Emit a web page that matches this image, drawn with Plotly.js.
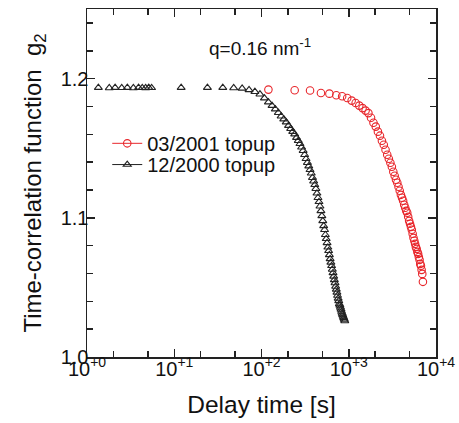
<!DOCTYPE html>
<html>
<head>
<meta charset="utf-8">
<script src="https://cdn.plot.ly/plotly-3.0.1.min.js"></script>
<style>html,body{margin:0;padding:0;background:#fff;}#chart{width:459px;height:423px;}</style>
</head>
<body>
<div id="chart"></div>
<script>
// 12/2000 topup (triangles): delay time [s] and g2
var timeDec2000 = [1.35, 1.8, 2.1, 2.5, 2.9, 3.4, 3.9, 4.3, 4.7, 5.1, 5.5,
  12, 24, 36, 48, 60, 72, 84, 96, 108, 120, 132, 144, 156, 168, 180, 192, 204, 216, 228, 240,
  252, 264, 276, 288, 300, 312, 324, 336, 348, 360, 372, 384, 396, 408, 420, 432, 444, 456, 468, 480,
  492, 504, 516, 528, 540, 552, 564, 576, 588, 600, 612, 624, 636, 648, 660, 672, 684, 696, 708, 720,
  732, 744, 756, 768, 780, 792, 804, 816, 828, 840, 852, 864, 876, 888, 900];
var g2Dec2000 = [1.1935, 1.1933, 1.1935, 1.1934, 1.1935, 1.1933, 1.1935, 1.1934, 1.1933, 1.1935, 1.1934,
  1.1935, 1.1935, 1.1935, 1.1933, 1.1930, 1.1919, 1.1906, 1.1888, 1.1860, 1.1831, 1.1806, 1.1781, 1.1755, 1.1730, 1.1709, 1.1687, 1.1662, 1.1640, 1.1619, 1.1601,
  1.1576, 1.1554, 1.1532, 1.1507, 1.1482, 1.1453, 1.1424, 1.1396, 1.1371, 1.1345, 1.1320, 1.1288, 1.1263, 1.1237, 1.1209, 1.1176, 1.1144, 1.1115, 1.1083, 1.1050,
  1.1014, 1.0978, 1.0942, 1.0914, 1.0878, 1.0849, 1.0820, 1.0788, 1.0763, 1.0734, 1.0705, 1.0680, 1.0655, 1.0629, 1.0604, 1.0579, 1.0554, 1.0532, 1.0507, 1.0486,
  1.0464, 1.0442, 1.0421, 1.0403, 1.0381, 1.0371, 1.0356, 1.0342, 1.0327, 1.0313, 1.0302, 1.0291, 1.0281, 1.0270, 1.0259];

// 03/2001 topup (circles)
var timeMar2001 = [120, 240, 360, 480, 600, 720, 840, 960, 1080, 1200,
  1320, 1440, 1560, 1680, 1800, 1920, 2040, 2160, 2280, 2400,
  2520, 2640, 2760, 2880, 3000, 3120, 3240, 3360, 3480, 3600,
  3720, 3840, 3960, 4080, 4200, 4320, 4440, 4560, 4680, 4800,
  4920, 5040, 5160, 5280, 5400, 5520, 5640, 5760, 5880, 6000,
  6120, 6240, 6360, 6480, 6600, 6720, 6840, 6960, 7080];
var g2Mar2001 = [1.1921, 1.1916, 1.1915, 1.1897, 1.1892, 1.1880, 1.1873, 1.1861, 1.1842, 1.1825,
  1.1806, 1.1788, 1.1770, 1.1752, 1.1719, 1.1683, 1.1655, 1.1619, 1.1590, 1.1554,
  1.1525, 1.1489, 1.1453, 1.1424, 1.1396, 1.1367, 1.1331, 1.1302, 1.1273, 1.1252,
  1.1223, 1.1194, 1.1165, 1.1144, 1.1122, 1.1094, 1.1072, 1.1050, 1.1036, 1.1007,
  1.0978, 1.0957, 1.0935, 1.0914, 1.0885, 1.0856, 1.0835, 1.0813, 1.0791, 1.0777,
  1.0755, 1.0741, 1.0719, 1.0698, 1.0669, 1.0655, 1.0626, 1.0597, 1.0540];

var seriesNames = ['03/2001 topup', '12/2000 topup'];
var xTickVals = [1, 10, 100, 1000, 10000];
var xTickText = ['10<sup>+0</sup>', '10<sup>+1</sup>', '10<sup>+2</sup>', '10<sup>+3</sup>', '10<sup>+4</sup>'];
var xMinorVals = [2, 5, 20, 50, 200, 500, 2000, 5000];
var yTickVals = [1.0, 1.1, 1.2];
var yTickText = ['1.0', '1.1', '1.2'];

var red = '#e8262b', black = '#222222';
var FONT = 'Liberation Sans, Arial, sans-serif';

var triMarker = {symbol: 'triangle-up-open', size: 7, color: black, line: {width: 1.1, color: black}};
var circMarker = {symbol: 'circle-open', size: 7.5, color: red, line: {width: 1.1, color: red}};

var traces = [
  {x: timeDec2000, y: g2Dec2000, mode: 'markers', type: 'scatter', showlegend: false, marker: triMarker},
  {x: timeMar2001, y: g2Mar2001, mode: 'markers', type: 'scatter', showlegend: false, marker: circMarker},
  {x: [null], y: [null], mode: 'lines+markers', type: 'scatter', name: seriesNames[0], legend: 'legend',
   line: {color: red, width: 1}, marker: circMarker},
  {x: [null], y: [null], mode: 'lines+markers', type: 'scatter', name: seriesNames[1], legend: 'legend2',
   line: {color: black, width: 1}, marker: triMarker}
];

var axisCommon = {
  showline: true, linecolor: '#222', linewidth: 1.5, mirror: 'ticks',
  ticks: 'inside', ticklen: 8, tickwidth: 1.5, tickcolor: '#222',
  showgrid: false, zeroline: false,
  tickfont: {family: FONT, size: 20, color: '#111'}
};

var legendCommon = {xanchor: 'left', yanchor: 'middle', bgcolor: 'rgba(0,0,0,0)',
  font: {family: FONT, size: 20, color: '#111'}};

var layout = {
  width: 459, height: 423,
  margin: {l: 87, r: 23, t: 9, b: 66},
  paper_bgcolor: '#fff', plot_bgcolor: '#fff',
  font: {family: FONT, color: '#111'},
  xaxis: Object.assign({}, axisCommon, {
    type: 'log', range: [0, 4], tickmode: 'array', tickvals: xTickVals, ticktext: xTickText,
    ticklabelstandoff: -7,
    minor: {tickmode: 'array', tickvals: xMinorVals, ticks: 'inside', ticklen: 6, tickwidth: 1.5, tickcolor: '#222'},
    title: {text: 'Delay time [s]', font: {family: FONT, size: 24.5, color: '#111'}, standoff: 17}
  }),
  yaxis: Object.assign({}, axisCommon, {
    range: [1.0, 1.25], tickmode: 'array', tickvals: yTickVals, ticktext: yTickText,
    ticklabelstandoff: -7,
    minor: {dtick: 0.02, ticks: 'inside', ticklen: 6, tickwidth: 1.5, tickcolor: '#222'},
    title: {text: 'Time-correlation function  g<sub>2</sub>', font: {family: FONT, size: 24, color: '#111'}, standoff: 12}
  }),
  legend: Object.assign({}, legendCommon, {x: 0.058, y: 0.614}),
  legend2: Object.assign({}, legendCommon, {x: 0.058, y: 0.553}),
  annotations: [{
    xref: 'paper', yref: 'paper', x: 0.496, y: 0.891, xanchor: 'center', yanchor: 'middle',
    text: 'q=0.16 nm<sup>-1</sup>', showarrow: false, font: {family: FONT, size: 19, color: '#111'}
  }]
};

Plotly.newPlot('chart', traces, layout, {displayModeBar: false, staticPlot: true});
</script>
</body>
</html>
